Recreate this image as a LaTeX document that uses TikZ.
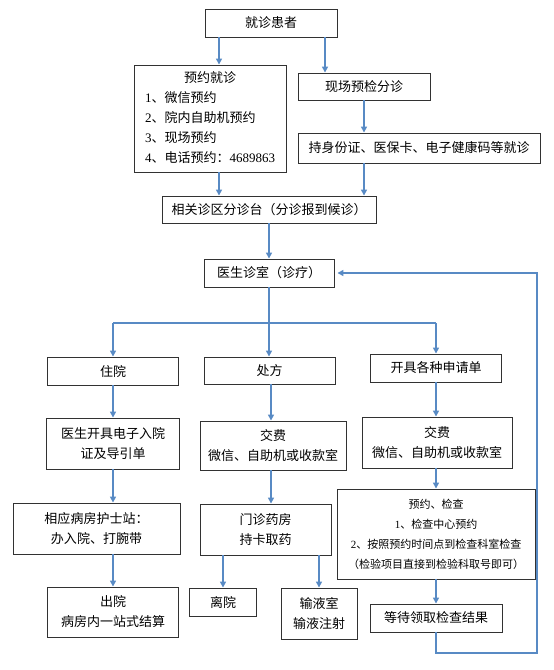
\documentclass[tikz,border=0pt]{standalone}
\usepackage{fontspec}
\setmainfont{Noto Sans CJK SC}
\newfontfamily\numfont{Liberation Serif}
\usepackage{tikz}
\usetikzlibrary{arrows,arrows.meta,positioning}
\usepackage{xcolor}
\definecolor{flowblue}{RGB}{88,138,196}
\definecolor{boxgray}{RGB}{50,50,50}
\tikzstyle{arrow} = [line width=1.5bp,-{Triangle[length=6bp,width=6bp]},color=flowblue]
\tikzstyle{link} = [line width=1.5bp,color=flowblue]
\tikzstyle{box} = [draw=boxgray,line width=0.9bp,align=center,inner sep=2bp,font=\fontsize{13bp}{20bp}\selectfont]
\tikzstyle{smallbox} = [box,font=\fontsize{11bp}{20bp}\selectfont]

\begin{document}
\begin{tikzpicture}[x=1bp,y=-1bp]
\useasboundingbox (0,0) rectangle (554,670);

% Registration
\node[box, minimum width=132bp, minimum height=28bp] (pat) at (271,23) {就诊患者};
\node[box, minimum width=152bp, minimum height=107bp] (yuyue) at (210,118.5) {\begin{tabular}{@{}l@{}}\multicolumn{1}{@{}c@{}}{预约就诊}\\{\numfont 1}、微信预约\\{\numfont 2}、院内自助机预约\\{\numfont 3}、现场预约\\{\numfont 4}、电话预约：{\numfont 4689863}\end{tabular}};
\node[box, minimum width=132bp, minimum height=27bp] (xianchang) at (364,86.5) {现场预检分诊};
\node[box, minimum width=242bp, minimum height=30bp] (chishen) at (419,148) {持身份证、医保卡、电子健康码等就诊};
\node[box, minimum width=214bp, minimum height=27bp] (fenzhen) at (269,209.5) {相关诊区分诊台（分诊报到候诊）};
\node[box, minimum width=130bp, minimum height=28bp] (yisheng) at (269,273) {医生诊室（诊疗）};

% Three branches
\node[box, minimum width=131bp, minimum height=28bp] (zhuyuan) at (113,371) {住院};
\node[box, minimum width=131bp, minimum height=27bp] (chufang) at (269.5,370.5) {处方};
\node[box, minimum width=131bp, minimum height=28bp] (kaiju) at (436,368) {开具各种申请单};

\node[box, minimum width=133bp, minimum height=51bp] (ruyuan) at (113,443.5) {医生开具电子入院\\证及导引单};
\node[box, minimum width=146bp, minimum height=49bp] (jiaofeimid) at (273,445.5) {交费\\微信、自助机或收款室};
\node[box, minimum width=150bp, minimum height=51bp] (jiaofeiright) at (437,442.5) {交费\\微信、自助机或收款室};

\node[box, minimum width=167bp, minimum height=51bp] (hushi) at (96.5,528.5) {相应病房护士站：\\办入院、打腕带};
\node[box, minimum width=131bp, minimum height=51bp] (yaofang) at (265.5,529.5) {门诊药房\\持卡取药};
\node[smallbox, minimum width=198bp, minimum height=90bp] (jiancha) at (436,534) {预约、检查\\{\numfont 1}、检查中心预约\\{\numfont 2}、按照预约时间点到检查科室检查\\（检验项目直接到检验科取号即可）};

\node[box, minimum width=131bp, minimum height=50bp] (chuyuan) at (113,612) {出院\\病房内一站式结算};
\node[box, minimum width=67bp, minimum height=28bp] (liyuan) at (223,602) {离院};
\node[box, minimum width=76bp, minimum height=51bp] (shuye) at (319,613.5) {输液室\\输液注射};
\node[box, minimum width=132bp, minimum height=28bp] (dengdai) at (436,618) {等待领取检查结果};

% Arrows, top part
\draw[arrow] ([xshift=9bp]yuyue.north |- pat.south) -- ([xshift=9bp]yuyue.north);
\draw[arrow] ([xshift=-39bp]xianchang.north |- pat.south) -- ([xshift=-39bp]xianchang.north);
\draw[arrow] (xianchang.south) -- (xianchang.south |- chishen.north);
\draw[arrow] ([xshift=9bp]yuyue.south) -- ([xshift=9bp]yuyue.south |- fenzhen.north);
\draw[arrow] (xianchang.south |- chishen.south) -- (xianchang.south |- fenzhen.north);
\draw[arrow] (fenzhen.south) -- (fenzhen.south |- yisheng.north);

% Split below the doctor
\coordinate (split) at (269,323);
\draw[link] (split -| zhuyuan.north) -- (split -| kaiju.north);
\draw[arrow] (split -| zhuyuan.north) -- (zhuyuan.north);
\draw[arrow] (split -| kaiju.north) -- (kaiju.north);
\draw[arrow] (yisheng.south) -- (yisheng.south |- chufang.north);

% Left column
\draw[arrow] (zhuyuan.south) -- (zhuyuan.south |- ruyuan.north);
\draw[arrow] (ruyuan.south) -- (ruyuan.south |- hushi.north);
\draw[arrow] (chuyuan.north |- hushi.south) -- (chuyuan.north);

% Middle column
\draw[arrow] ([xshift=1.5bp]chufang.south) -- ([xshift=1.5bp]chufang.south |- jiaofeimid.north);
\draw[arrow] ([xshift=5.5bp]yaofang.north |- jiaofeimid.south) -- ([xshift=5.5bp]yaofang.north);
\draw[arrow] (liyuan.north |- yaofang.south) -- (liyuan.north);
\draw[arrow] (shuye.north |- yaofang.south) -- (shuye.north);

% Right column
\draw[arrow] (kaiju.south) -- (kaiju.south |- jiaofeiright.north);
\draw[arrow] (kaiju.south |- jiaofeiright.south) -- (kaiju.south |- jiancha.north);
\draw[arrow] (jiancha.south) -- (dengdai.north);

% Back to the doctor
\coordinate (loop) at (537,653);
\draw[arrow] (dengdai.south) |- (loop) |- ([xshift=3bp]yisheng.east);
\end{tikzpicture}
\end{document}
